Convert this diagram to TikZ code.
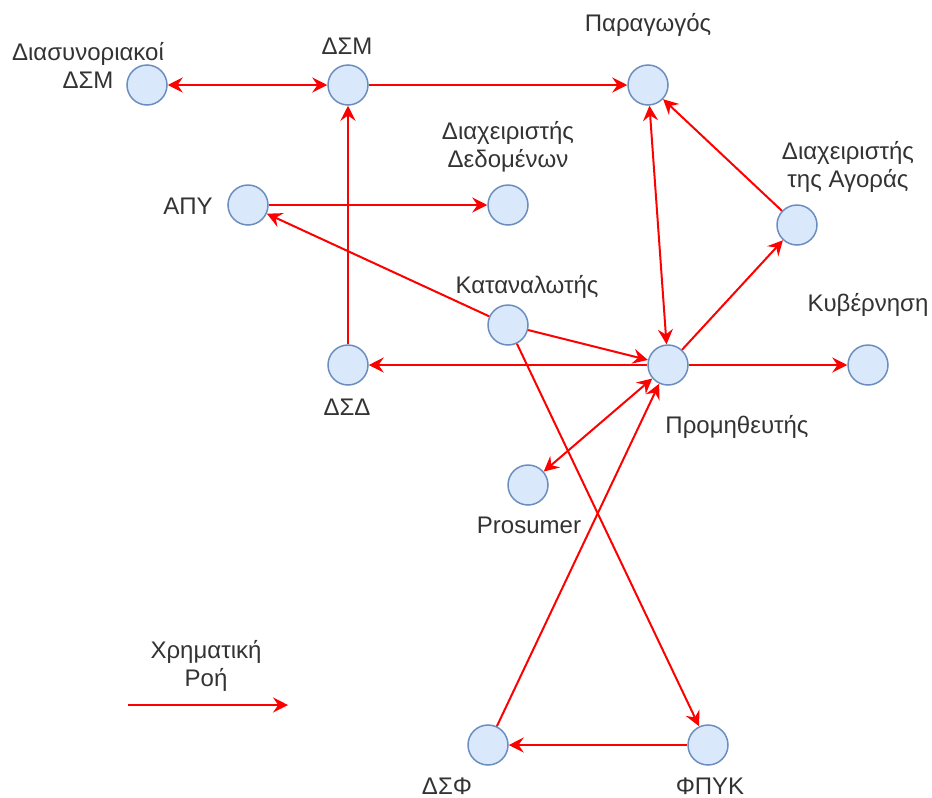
\documentclass[tikz,border=0pt]{standalone}
\usepackage{fontspec}
\setmainfont{Liberation Sans}
\usetikzlibrary{arrows.meta}
\definecolor{nodefill}{HTML}{DAE8FC}
\definecolor{nodeline}{HTML}{6C8EBF}
\tikzset{
    station/.style={circle, draw=nodeline, fill=nodefill, line width=0.75pt,
        minimum size=20pt, inner sep=0pt},
    tag/.style={align=center, text=black!80, inner sep=0pt,
        font=\fontsize{12pt}{14pt}\selectfont},
    flow/.style={draw=red, line width=1pt}
}
\begin{document}
\begin{tikzpicture}[x=0.5pt, y=-0.5pt,
        >={Stealth[length=7.5pt,width=7.5pt,inset=2.6pt]}]
    \useasboundingbox (0,0) rectangle (932,798);
    \foreach \n/\x/\y in {diasm/147/85, dsm/348/85, parag/648/85,
        dded/508/205, apy/248/205, dagor/797/225, katan/508/325,
        dsd/348/365, prom/668/365, kyv/868/365, pros/528/485,
        dsf/488/745, fpyk/708/745} {
        \node[station] (\n) at (\x,\y) {};
    }
    \foreach \n/\x/\y/\t in {diasm/88/65/{Διασυνοριακοί\\ΔΣΜ},
        dsm/347/46/{ΔΣΜ}, parag/648/25/{Παραγωγός},
        dded/508/147/{Διαχειριστής\\Δεδομένων}, apy/188/206/{ΑΠΥ},
        dagor/848/167/{Διαχειριστής\\της Αγοράς},
        katan/527/287/{Καταναλωτής}, kyv/868/305/{Κυβέρνηση},
        dsd/347/407/{ΔΣΔ}, prom/737/427/{Προμηθευτής},
        pros/529/525/{Prosumer}, dsf/447/786/{ΔΣΦ},
        fpyk/710/786/{ΦΠΥΚ}, leg/206/666/{Χρηματική\\Ροή}} {
        \node[tag] (l-\n) at (\x,\y) {\t};
    }
    % legend
    \coordinate (leg-a) at (128,705);
    \coordinate (leg-b) at (288,705);
    \draw[flow,->] (leg-a) -- (leg-b);
    % flows
    \draw[flow,<->] (diasm) -- (dsm);
    \draw[flow,->] (dsm) -- (parag);
    \draw[flow,->] (dsd) -- (dsm);
    \draw[flow,->] (apy) -- (dded);
    \draw[flow,->] (katan) -- (apy);
    \draw[flow,->] (katan) -- (prom);
    \draw[flow,->] (katan) -- (fpyk);
    \draw[flow,->] (prom) -- (dsd);
    \draw[flow,->] (prom) -- (kyv);
    \draw[flow,->] (prom) -- (dagor);
    \draw[flow,->] (dagor) -- (parag);
    \draw[flow,<->] (parag) -- (prom);
    \draw[flow,<->] (prom) -- (pros);
    \draw[flow,->] (dsf) -- (prom);
    \draw[flow,->] (fpyk) -- (dsf);
\end{tikzpicture}
\end{document}
